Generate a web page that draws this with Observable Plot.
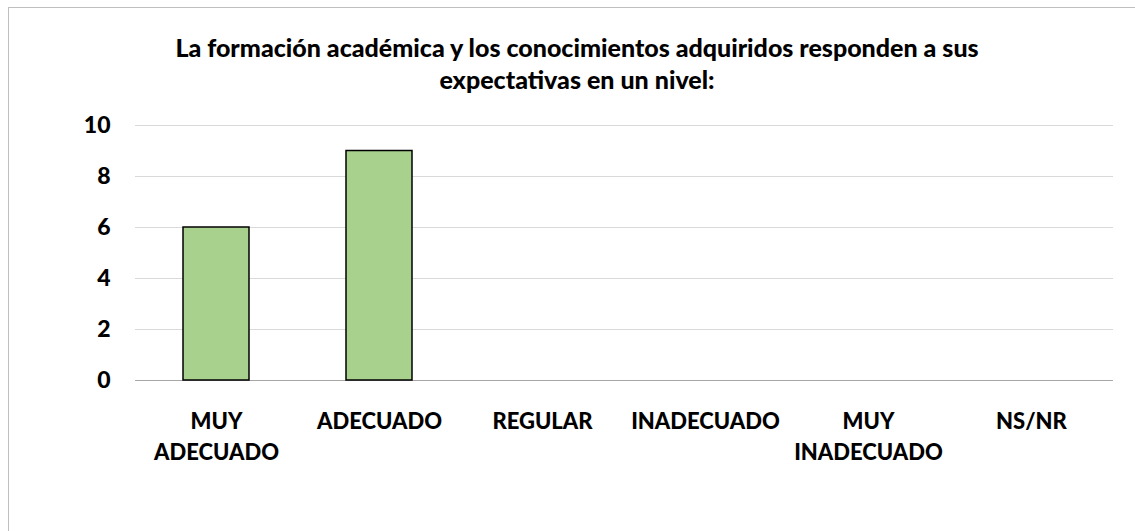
<!DOCTYPE html>
<html>
<head>
<meta charset="utf-8">
<script src="https://cdn.jsdelivr.net/npm/d3@7"></script>
<script src="https://cdn.jsdelivr.net/npm/@observablehq/plot@0.6"></script>
<style>
  html, body { margin: 0; padding: 0; background: #fff; overflow: hidden; }
  #wrap { position: relative; width: 1135px; height: 531px; overflow: hidden; }
  #frame { position: absolute; left: 8px; top: 7px; width: 1200px; height: 600px; border: 1px solid #bfbfbf; box-sizing: border-box; }
  #title { position: absolute; left: 8px; width: 1138px; top: 31px; text-align: center;
           font-family: Lato, "Open Sans", sans-serif; font-weight: 900; font-size: 25px; line-height: 32px; color: #000; }
  #chart { position: absolute; left: 0; top: 0; }
</style>
</head>
<body>
<div id="wrap">
  <div id="frame"></div>
  <div id="chart"></div>
  <div id="title">La formación académica y los conocimientos adquiridos responden a sus<br>expectativas en un nivel:</div>
</div>
<script>
const categories = ["MUY\nADECUADO", "ADECUADO", "REGULAR", "INADECUADO", "MUY\nINADECUADO", "NS/NR"];
const values = [6, 9, 0, 0, 0, 0];
const yTicks = [0, 2, 4, 6, 8, 10];

const data = categories.map((c, i) => ({category: c, value: values[i]}));
const font = "Lato, 'Open Sans', sans-serif";

const chart = Plot.plot({
  width: 1135,
  height: 531,
  marginLeft: 135,
  marginRight: 22,
  marginTop: 125,
  marginBottom: 151,
  style: {background: "transparent", fontFamily: font, color: "#000"},
  x: {domain: categories, paddingInner: 0.595, paddingOuter: 0.2975},
  y: {domain: [0, 10]},
  marks: [
    Plot.gridY(yTicks.filter(t => t > 0), {stroke: "#d9d9d9", strokeOpacity: 1, strokeWidth: 1}),
    Plot.ruleY([0], {stroke: "#a6a6a6", strokeWidth: 1}),
    Plot.barY(data, {x: "category", y: "value", filter: d => d.value > 0, fill: "#a9d18e", stroke: "#000", strokeWidth: 1.5}),
    Plot.axisY({ticks: yTicks, tickSize: 0, tickPadding: 25, fontSize: 23, fontWeight: 900, fontFamily: font, label: null}),
    Plot.axisX({tickSize: 0, tickPadding: 27, fontSize: 22, fontWeight: 900, fontFamily: font, lineHeight: 1.4, label: null})
  ]
});
document.getElementById("chart").appendChild(chart);
</script>
</body>
</html>
